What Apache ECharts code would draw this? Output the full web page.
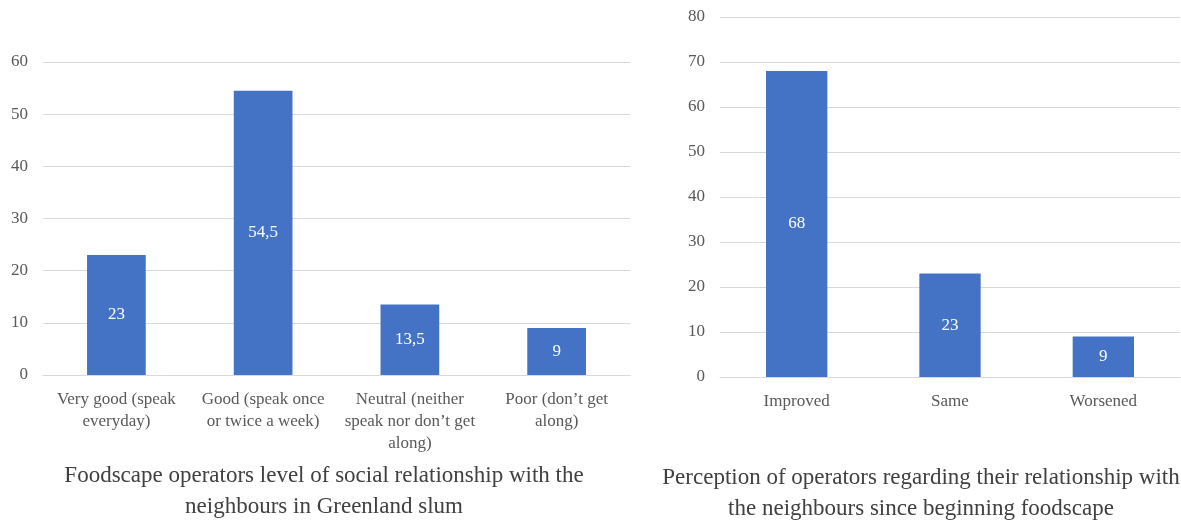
<!DOCTYPE html>
<html>
<head>
<meta charset="utf-8">
<title>Foodscape operators and their neighbours</title>
<script src="https://cdn.jsdelivr.net/npm/echarts@6/dist/echarts.min.js"></script>
<style>
  html, body { margin: 0; padding: 0; background: #ffffff; }
  #chart { width: 1181px; height: 521px; }
</style>
</head>
<body>
<div id="chart"></div>
<script>
// Level of social relationship with the neighbours (%)
const relationCategories = [
  'Very good (speak\neveryday)',
  'Good (speak once\nor twice a week)',
  'Neutral (neither\nspeak nor don\u2019t get\nalong)',
  'Poor (don\u2019t get\nalong)'
];
const relationValues = [23, 54.5, 13.5, 9];

// Perceived change in the relationship since the foodscape began (%)
const changeCategories = ['Improved', 'Same', 'Worsened'];
const changeValues = [68, 23, 9];

const leftTitle = 'Foodscape operators level of social relationship with the\nneighbours in Greenland slum';
const rightTitle = 'Perception of operators regarding their relationship with\nthe neighbours since beginning foodscape';

const FONT = '"Liberation Serif", "DejaVu Serif", serif';
const LABEL_GREY = '#595959';
const GRID_GREY = '#d9d9d9';
const BAR_BLUE = '#4472c4';

const commaDecimal = p => String(p.value).replace('.', ',');

function valueAxis(gridIndex, max) {
  return {
    type: 'value', gridIndex, min: 0, max, interval: 10,
    axisLine: { show: false }, axisTick: { show: false },
    axisLabel: { color: LABEL_GREY, fontFamily: FONT, fontSize: 17, margin: 15 },
    splitLine: { lineStyle: { color: GRID_GREY, width: 1 } }
  };
}

function categoryAxis(gridIndex, data) {
  return {
    type: 'category', gridIndex, data,
    axisLine: { lineStyle: { color: GRID_GREY, width: 1 } },
    axisTick: { show: false },
    axisLabel: {
      color: LABEL_GREY, fontFamily: FONT, fontSize: 17, lineHeight: 22,
      margin: 14, interval: 0
    }
  };
}

function barSeries(index, data) {
  return {
    type: 'bar', xAxisIndex: index, yAxisIndex: index, data,
    barWidth: '40%',
    itemStyle: { color: BAR_BLUE },
    label: {
      show: true, position: 'inside', color: '#ffffff',
      fontFamily: FONT, fontSize: 17, formatter: commaDecimal
    },
    silent: true
  };
}

const chart = echarts.init(document.getElementById('chart'), null, { renderer: 'canvas' });

chart.setOption({
  backgroundColor: '#ffffff',
  animation: false,
  grid: [
    { left: 43, right: 551, top: 62, bottom: 146 },
    { left: 720, right: 1, top: 17, bottom: 144 }
  ],
  xAxis: [categoryAxis(0, relationCategories), categoryAxis(1, changeCategories)],
  yAxis: [valueAxis(0, 60), valueAxis(1, 80)],
  series: [barSeries(0, relationValues), barSeries(1, changeValues)],
  graphic: [
    {
      type: 'text', x: 324, y: 460,
      style: {
        text: leftTitle, textAlign: 'center', fill: '#404040',
        font: '23px ' + FONT, lineHeight: 31
      }
    },
    {
      type: 'text', x: 921, y: 462,
      style: {
        text: rightTitle, textAlign: 'center', fill: '#404040',
        font: '23px ' + FONT, lineHeight: 31
      }
    }
  ]
});
</script>
</body>
</html>
